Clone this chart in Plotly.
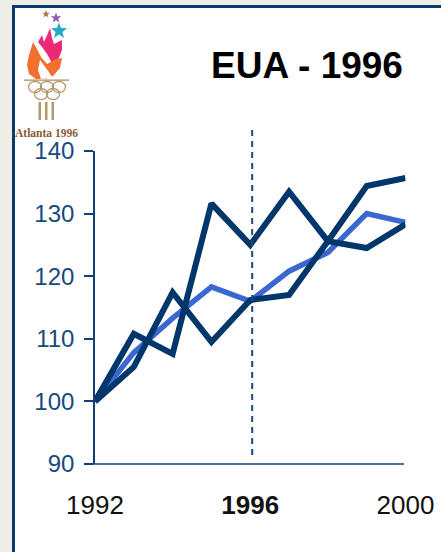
import math
import plotly.graph_objects as go

years = [1992, 1993, 1994, 1995, 1996, 1997, 1998, 1999, 2000]
series_a = [100, 110.8, 107.6, 131.6, 125, 133.5, 125.6, 124.5, 128.3]
series_b = [100, 105.5, 117.4, 109.5, 116.2, 117, 125.6, 134.4, 135.7]
series_c = [100, 107.8, 113.3, 118.3, 116, 120.8, 123.8, 130, 128.6]
y_ticks = [90, 100, 110, 120, 130, 140]
x_ticks = [1992, 1996, 2000]
x_labels = ["1992", "<b>1996</b>", "2000"]
marker_year = 1996

W, H = 441, 552
NAVY = "#0a3a6e"
DARK = "#03366b"
BLUE = "#3a67d0"
INK = "#123f78"


def px(x):
    return x / W


def py(y):
    return 1 - y / H


def path(points):
    return "M " + " L ".join(f"{px(x):.5f},{py(y):.5f}" for x, y in points) + " Z"


def star(cx, cy, r, rot=-90):
    pts = []
    for i in range(10):
        rr = r if i % 2 == 0 else r * 0.42
        a = math.radians(rot + i * 36)
        pts.append((cx + rr * math.cos(a), cy + rr * math.sin(a)))
    return path(pts)


def ring(cx, cy, r):
    return dict(type="circle", xref="paper", yref="paper",
                x0=px(cx - r), x1=px(cx + r), y0=py(cy + r * 0.85), y1=py(cy - r * 0.85),
                line=dict(color="#b39a6a", width=1.3), layer="above")


def solid(p, color):
    return dict(type="path", xref="paper", yref="paper", path=p,
                fillcolor=color, line=dict(width=0), layer="above")


def rect(x0, y0, x1, y1, color, layer="below"):
    return dict(type="rect", xref="paper", yref="paper", x0=px(x0), x1=px(x1),
                y0=py(y1), y1=py(y0), fillcolor=color, line=dict(width=0), layer=layer)


shapes = [
    rect(0, 0, 441, 552, "#eeeee4"),
    rect(12, 5, 441, 552, NAVY),
    rect(15, 8, 441, 552, "#ffffff"),
    # x axis line
    dict(type="line", xref="paper", yref="paper", x0=px(86), x1=px(404),
         y0=py(464), y1=py(464), line=dict(color=INK, width=1.6)),
    # dashed marker
    dict(type="line", xref="x", yref="paper", x0=marker_year + 0.05, x1=marker_year + 0.05,
         y0=py(455), y1=py(125), line=dict(color="#1d4a7c", width=2, dash="6px,5px")),
    # Logo
    solid(star(46, 14, 4), "#a5793f"),
    solid(star(56, 18, 5.5), "#8a5fb5"),
    solid(star(59, 31, 8.5), "#25a9c9"),
    solid(path([(38, 42), (42, 35), (44, 42), (48, 33), (50, 28), (52, 38), (54, 44), (62, 40), (62, 50),
                (58, 60), (52, 63), (47, 54), (42, 47)]), "#ea2a76"),
    solid(path([(33, 42), (37, 49), (41, 57), (47, 64), (56, 59), (62, 58), (60, 68), (53, 76), (46, 79), (36, 79),
                (29, 74), (27, 65), (29, 55)]), "#f4702f"),
    solid(path([(41, 79), (38, 70), (40, 60), (46, 68), (53, 78)]), "#ffffff"),
    rect(24, 79.5, 69, 80.8, "#a98c5a", "above"),
    ring(35, 87, 6.5), ring(47, 87, 6.5), ring(59, 87, 6.5), ring(41, 94, 6.5), ring(53, 94, 6.5),
    rect(38.5, 102, 41, 120, "#b39a6a", "above"),
    rect(45, 102, 47.5, 120, "#b39a6a", "above"),
    rect(51.5, 102, 54, 120, "#b39a6a", "above"),
]

fig = go.Figure()
fig.add_trace(go.Scatter(x=years, y=series_c, mode="lines",
                         line=dict(color=BLUE, width=5.5), cliponaxis=False))
fig.add_trace(go.Scatter(x=years, y=series_a, mode="lines",
                         line=dict(color=DARK, width=6), cliponaxis=False))
fig.add_trace(go.Scatter(x=years, y=series_b, mode="lines",
                         line=dict(color=DARK, width=6), cliponaxis=False))

fig.update_layout(
    template="none",
    width=W, height=H, margin=dict(l=0, r=0, t=0, b=0, pad=0), showlegend=False,
    paper_bgcolor="#ffffff", plot_bgcolor="rgba(0,0,0,0)",
    font=dict(family="Liberation Sans, Arial, sans-serif"),
    shapes=shapes,
    xaxis=dict(domain=[px(95), px(405.5)], range=[1992, 2000], tickvals=x_ticks, ticktext=x_labels,
               automargin=False, showgrid=False, zeroline=False, showline=False,
               ticks="outside", ticklen=18, tickcolor="rgba(0,0,0,0)", anchor="y",
               tickfont=dict(size=26, color="#111111")),
    yaxis=dict(domain=[py(464), py(151)], range=[90, 140], tickvals=y_ticks,
               automargin=False, showgrid=False, zeroline=False, showline=True, linecolor=INK, linewidth=1.6,
               ticks="outside", ticklen=9, tickwidth=1.5, tickcolor=INK, ticklabelstandoff=5,
               tickfont=dict(size=24, color="#174a80")),
    annotations=[
        dict(text="<b>EUA - 1996</b>", xref="paper", yref="paper", x=px(307), y=py(66),
             xanchor="center", yanchor="middle", showarrow=False,
             font=dict(size=37, color="#000000", family="Liberation Sans, Arial, sans-serif")),
        dict(text="<b>Atlanta 1996</b>", xref="paper", yref="paper", x=px(46), y=py(132.5),
             xanchor="center", yanchor="middle", showarrow=False,
             font=dict(size=11.5, color="#8a5a35", family="Liberation Serif, serif")),
    ],
)

fig.write_html("out.html", config=dict(displayModeBar=False),
               post_script="document.body.style.margin='0';document.body.style.overflow='hidden';")
